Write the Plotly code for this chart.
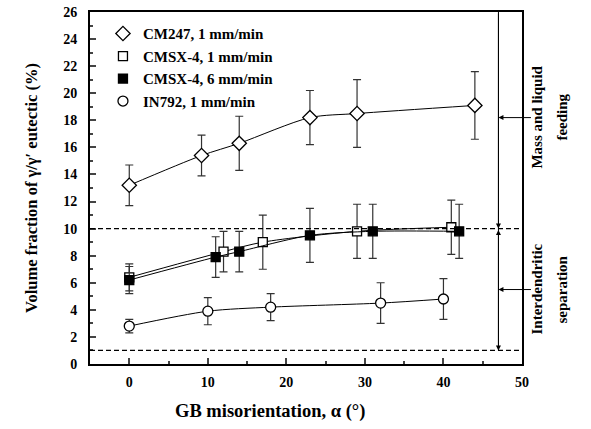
import plotly.graph_objects as go

# ---- data ----
cm247_x = [0, 9.2, 14, 23, 29, 44]
cm247_y = [13.2, 15.4, 16.3, 18.2, 18.5, 19.1]
cm247_e = [1.5, 1.5, 2.0, 2.0, 2.5, 2.5]

cmsx1_x = [0, 12, 17, 29, 41]
cmsx1_y = [6.4, 8.3, 9.0, 9.8, 10.1]
cmsx1_e = [1.0, 1.5, 2.0, 2.0, 2.0]

cmsx6_x = [0, 11, 14, 23, 31, 42]
cmsx6_y = [6.2, 7.9, 8.3, 9.5, 9.8, 9.8]
cmsx6_e = [1.0, 1.5, 1.5, 2.0, 2.0, 2.0]

in792_x = [0, 10, 18, 32, 40]
in792_y = [2.8, 3.9, 4.2, 4.5, 4.8]
in792_e = [0.5, 1.0, 1.0, 1.5, 1.5]

names = ["CM247, 1 mm/min", "CMSX-4, 1 mm/min", "CMSX-4, 6 mm/min", "IN792, 1 mm/min"]
x_ticks = [0, 10, 20, 30, 40, 50]
y_ticks = list(range(0, 27, 2))

FONT = "Liberation Serif"
def F(size):
    return dict(family=FONT, size=size, color="black", weight="bold")

fig = go.Figure()

def add_series(x, y, e, name, symbol, size, fill):
    fig.add_trace(go.Scatter(x=x, y=y, mode="lines", line=dict(color="black", width=1, shape="spline", smoothing=0.8),
                             showlegend=False, hoverinfo="skip"))
    fig.add_trace(go.Scatter(x=x, y=y, mode="markers", name=name,
                             marker=dict(symbol=symbol, size=size, color=fill, line=dict(color="black", width=1.3)),
                             error_y=dict(type="data", array=e, visible=True, color="#333", thickness=1.2, width=4)))

add_series(cm247_x, cm247_y, cm247_e, names[0], "diamond", 11, "white")
add_series(cmsx1_x, cmsx1_y, cmsx1_e, names[1], "square", 9, "white")
add_series(cmsx6_x, cmsx6_y, cmsx6_e, names[2], "square", 9, "black")
add_series(in792_x, in792_y, in792_e, names[3], "circle", 10, "white")

shapes = []
for yv in [10, 1]:
    shapes.append(dict(type="line", xref="paper", x0=0, x1=1, yref="y", y0=yv, y1=yv,
                       line=dict(color="black", width=1.2, dash="5px,3px")))
shapes.append(dict(type="line", xref="x", x0=47, x1=47, yref="y", y0=1, y1=26,
                   line=dict(color="black", width=1)))
fig.update_layout(shapes=shapes)

ann = []
ann.append(dict(x=47, y=10, ax=47, ay=26, xref="x", yref="y", axref="x", ayref="y", text="",
                showarrow=True, arrowhead=2, arrowsize=1, arrowwidth=1, arrowcolor="black"))
ann.append(dict(x=47, y=1, ax=47, ay=10, xref="x", yref="y", axref="x", ayref="y", text="",
                showarrow=True, arrowhead=2, arrowside="end+start", arrowsize=1, arrowwidth=1, arrowcolor="black"))
for yv in [18.2, 5.5]:
    ann.append(dict(x=47, y=yv, ax=34, ay=0, xref="x", yref="y", text="",
                    showarrow=True, arrowhead=2, arrowsize=1, arrowwidth=1, arrowcolor="black"))
side_texts = [("Mass and liquid", "feeding", 18.2), ("Interdendritic", "separation", 5.5)]
for l1, l2, yv in side_texts:
    ann.append(dict(x=(547 - 90) / 432, y=yv, xref="paper", yref="y", text=l1,
                    textangle=-90, showarrow=False, font=F(15)))
    ann.append(dict(x=(572 - 90) / 432, y=yv, xref="paper", yref="y", text=l2,
                    textangle=-90, showarrow=False, font=F(15)))
# x-axis title (offset left as in the original)
ann.append(dict(x=(270 - 90) / 432, y=(364 - 411) / 352, xref="paper", yref="paper",
                text="GB misorientation, α (°)", showarrow=False, font=F(18.5),
                xanchor="center", yanchor="middle"))
fig.update_layout(annotations=ann)

fig.update_layout(
    width=591, height=429,
    margin=dict(l=90, r=69, t=12, b=65),
    paper_bgcolor="white", plot_bgcolor="white",
    font=dict(family=FONT, color="black"),
    showlegend=True,
    legend=dict(x=0.03, y=0.985, xanchor="left", yanchor="top", bgcolor="rgba(0,0,0,0)",
                font=F(15), itemwidth=30, tracegroupgap=0, itemclick=False),
    xaxis=dict(range=[-5, 50], tickvals=x_ticks, ticks="inside", ticklen=6, tickwidth=1.5,
               showline=True, linewidth=2, linecolor="black", mirror=True, showgrid=False, zeroline=False,
               minor=dict(dtick=5, tick0=0, ticks="inside", ticklen=3, tickwidth=1.5),
               tickfont=F(14), ticklabelstandoff=4, automargin=False),
    yaxis=dict(range=[0, 26], tickvals=y_ticks, ticks="inside", ticklen=6, tickwidth=1.5,
               showline=True, linewidth=2, linecolor="black", mirror=True, showgrid=False, zeroline=False,
               minor=dict(dtick=1, tick0=0, ticks="inside", ticklen=3, tickwidth=1.5),
               tickfont=F(14), ticklabelstandoff=8, automargin=False,
               title=dict(text="Volume fraction of γ/γ′ eutectic (%)", font=F(16.5), standoff=21)),
)

fig.write_html("out.html", post_script="document.body.style.margin='0';",
               config={"displayModeBar": False})
